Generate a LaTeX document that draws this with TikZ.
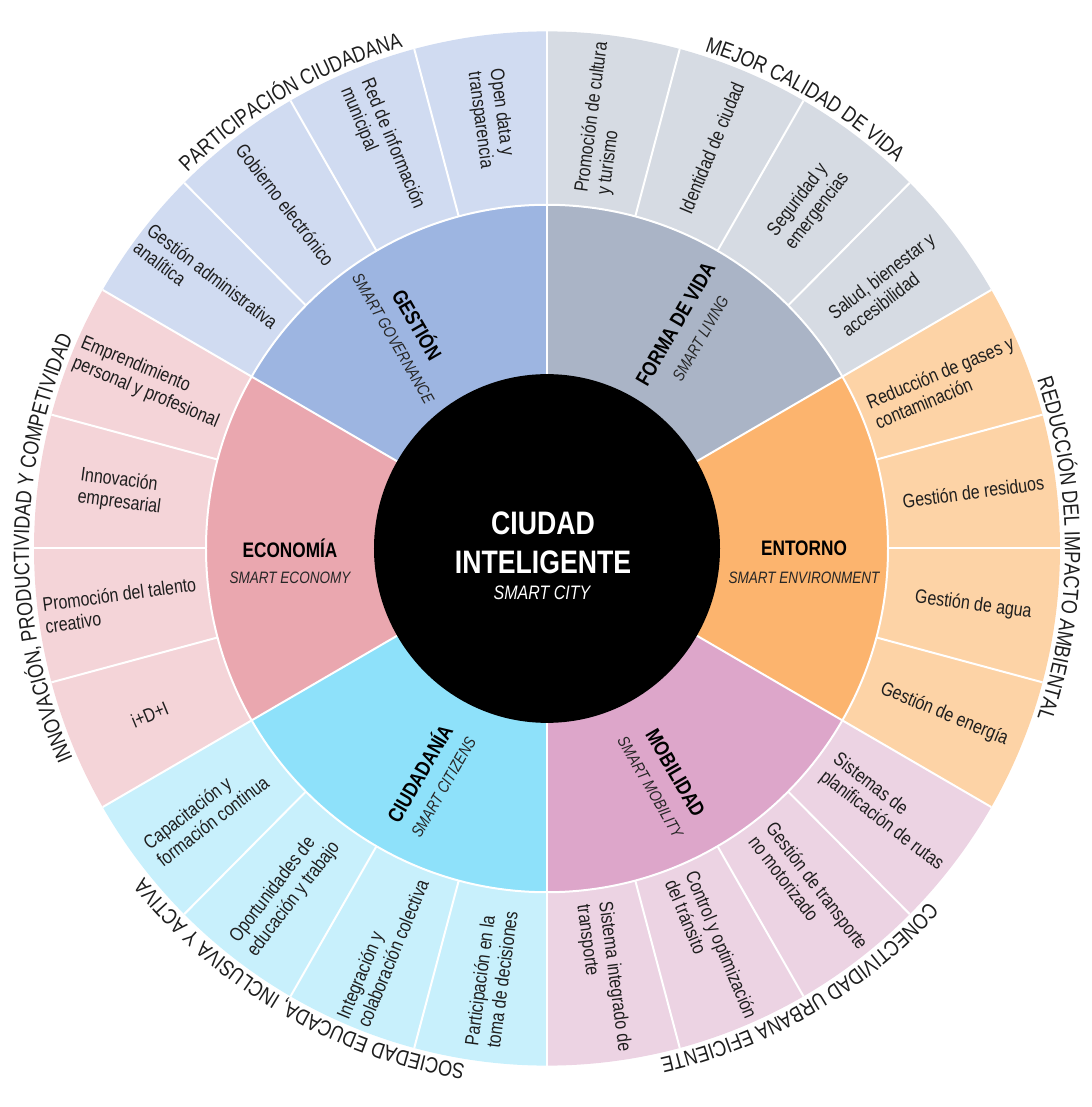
\documentclass[tikz,border=0pt]{standalone}
\usepackage{fontspec}
\setmainfont{Liberation Sans}
\newfontfamily\narrowfont[FakeStretch=0.82]{Liberation Sans}
\usetikzlibrary{calc,decorations.text}

% ring colours: inner (mid) and outer (out) tone of each axis
\definecolor{govmid}{HTML}{9DB5E1}
\definecolor{govout}{HTML}{D0DBF1}
\definecolor{livmid}{HTML}{AAB4C6}
\definecolor{livout}{HTML}{D6DBE3}
\definecolor{envmid}{HTML}{FCB46E}
\definecolor{envout}{HTML}{FDD3A6}
\definecolor{mobmid}{HTML}{DDA6CA}
\definecolor{mobout}{HTML}{ECD3E3}
\definecolor{citmid}{HTML}{8EE1FA}
\definecolor{citout}{HTML}{C8F0FC}
\definecolor{ecomid}{HTML}{EAA7AF}
\definecolor{ecoout}{HTML}{F4D4D8}
\definecolor{inkgray}{HTML}{1E1E1E}

\newcommand\arcfont{\narrowfont\fontsize{22}{26}\selectfont\color{inkgray}}

\begin{document}
\begin{tikzpicture}[x=1pt,y=1.008pt,
  sublabel/.style={font=\narrowfont\fontsize{19.5}{22}\selectfont, text=inkgray, align=left, inner sep=0pt},
  ringtitle/.style={font=\narrowfont\bfseries\fontsize{21}{24}\selectfont, text=black, inner sep=0pt},
  ringsub/.style={font=\narrowfont\itshape\fontsize{16.5}{19}\selectfont, text=black!85, inner sep=0pt},
  citytitle/.style={font=\narrowfont\bfseries\fontsize{32.5}{39}\selectfont, text=white, inner sep=0pt},
  citysub/.style={font=\narrowfont\itshape\fontsize{19.5}{22}\selectfont, text=white, inner sep=0pt},
  sepline/.style={white, line width=2pt},
  arctext/.style={decorate, decoration={text along path, text align=center, text={#1}}},
]
\path[use as bounding box] (-547pt,-558.5pt) rectangle (544pt,548.5pt);

% six axes: outer band and inner band
\foreach \a/\mid/\out in {30/livmid/livout, 90/govmid/govout, 150/ecomid/ecoout,
                          210/citmid/citout, 270/mobmid/mobout, 330/envmid/envout}{
  \fill[\out] (0,0) -- (\a:513) arc[start angle=\a, end angle=\a+60, radius=513] -- cycle;
  \fill[\mid] (0,0) -- (\a:341) arc[start angle=\a, end angle=\a+60, radius=341] -- cycle;
}

% white separators
\draw[sepline] (0,0) circle[radius=341];
\foreach \a in {0,15,...,345} \draw[sepline] (\a:341) -- (\a:513);
\foreach \a in {30,90,...,330} \draw[sepline] (0,0) -- (\a:341);

% core
\fill[black] (0,0) circle[radius=173];
\node[citytitle] (city1) at (-4,25) {CIUDAD};
\node[citytitle] (city2) at (-4,-13.5) {INTELIGENTE};
\node[citysub]   (city3) at (-5,-44) {SMART CITY};

% axis names in the inner band
\foreach \ang/\rot/\ttl/\sub [count=\i] in {
    60/60/FORMA DE VIDA/SMART LIVING,
    120/-60/GESTIÓN/SMART GOVERNANCE,
    180/0/ECONOMÍA/SMART ECONOMY,
    240/60/CIUDADANÍA/SMART CITIZENS,
    300/-60/MOBILIDAD/SMART MOBILITY,
    0/0/ENTORNO/SMART ENVIRONMENT}{
  \node[ringtitle, rotate=\rot] (axis\i) at (\ang:257) {\ttl};
  \node[ringsub, rotate=\rot] (axissub\i) at ($(\ang:257)+(\rot-90:29pt)$) {\sub};
}

% components in the outer band
\foreach \ang/\rot/\txt [count=\i] in {
    82.5/82.5/{Promoción de cultura\\y turismo},
    67.5/67.5/{Identidad de ciudad},
    52.5/52.5/{Seguridad y\\emergencias},
    37.5/37.5/{Salud, bienestar y\\accesibilidad},
    97.5/-82.5/{Open data y\\transparencia},
    112.5/-67.5/{Red de información\\municipal},
    127.5/-52.5/{Gobierno electrónico},
    142.5/-37.5/{Gestión administrativa\\analítica},
    157.5/-22.5/{Emprendimiento\\personal y profesional},
    172.5/-7.5/{Innovación\\empresarial},
    187.5/7.5/{Promoción del talento\\creativo},
    202.5/22.5/{i+D+I},
    217.5/37.5/{Capacitación y\\formación continua},
    232.5/52.5/{Oportunidades de\\educación y trabajo},
    247.5/67.5/{Integración y\\colaboración colectiva},
    262.5/82.5/{Participación en la\\toma de decisiones},
    277.5/-82.5/{Sistema integrado de\\transporte},
    292.5/-67.5/{Control y optimización\\del tránsito},
    307.5/-52.5/{Gestión de transporte\\no motorizado},
    322.5/-37.5/{Sistemas de\\planificación de rutas},
    337.5/-22.5/{Gestión de energía},
    352.5/-7.5/{Gestión de agua},
    7.5/7.5/{Gestión de residuos},
    22.5/22.5/{Reducción de gases y\\contaminación}}{
  \node[sublabel, rotate=\rot] (comp\i) at (\ang:430) {\txt};
}

% goals written round the rim
\path[arctext={|\arcfont|MEJOR CALIDAD DE VIDA}]
  (90:518) arc[start angle=90, end angle=30, radius=518];
\path[arctext={|\arcfont|PARTICIPACIÓN CIUDADANA}]
  (150:518) arc[start angle=150, end angle=90, radius=518];
\path[arctext={|\arcfont|INNOVACIÓN, PRODUCTIVIDAD Y COMPETIVIDAD}]
  (210:518) arc[start angle=210, end angle=150, radius=518];
\path[arctext={|\arcfont|SOCIEDAD EDUCADA, INCLUSIVA Y ACTIVA}]
  (270:518) arc[start angle=270, end angle=210, radius=518];
\path[arctext={|\arcfont|CONECTIVIDAD URBANA EFICIENTE}]
  (330:518) arc[start angle=330, end angle=270, radius=518];
\path[arctext={|\arcfont|REDUCCIÓN DEL IMPACTO AMBIENTAL}]
  (30:518) arc[start angle=30, end angle=-30, radius=518];
\end{tikzpicture}
\end{document}
